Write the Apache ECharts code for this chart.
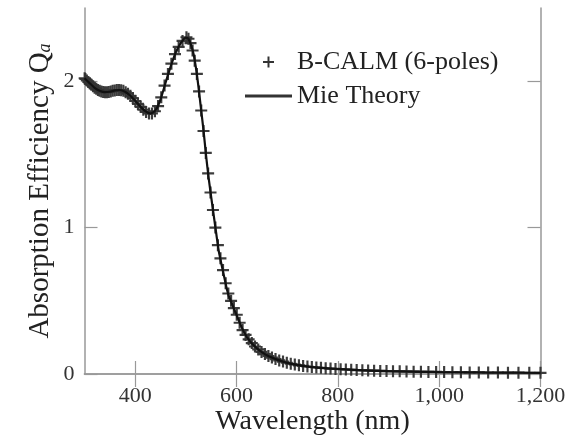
<!DOCTYPE html>
<html>
<head>
<meta charset="utf-8">
<script src="https://cdn.jsdelivr.net/npm/echarts@6/dist/echarts.min.js"></script>
<style>html,body{margin:0;padding:0;background:#fff}#c{width:583px;height:442px}</style>
</head>
<body>
<div id="c"></div>
<script>
// B-CALM (6-poles) samples (nm, Q_a)
const bcalmWavelength = [300.3,301.8,304.6,307.6,310.6,313.6,316.8,320.0,323.2,326.5,329.9,333.3,336.9,340.5,344.2,347.9,351.8,355.7,359.7,363.8,368.0,372.3,376.7,381.2,385.8,390.6,395.4,400.4,405.5,410.7,416.1,421.6,427.3,433.1,439.0,445.2,451.5,458.0,464.7,471.5,478.6,485.9,493.5,501.2,505.2,509.2,513.3,517.5,521.8,526.1,530.4,534.9,539.4,544.0,548.7,553.5,558.3,563.3,568.3,573.4,578.6,583.9,589.3,594.8,600.5,606.2,612.0,617.9,624.0,630.2,636.5,642.9,649.4,656.1,663.0,669.9,677.0,684.3,691.8,699.3,707.1,715.1,723.2,731.5,740.0,748.7,757.6,766.7,776.0,785.6,795.4,805.5,815.8,826.4,837.2,848.4,859.8,871.6,883.7,896.1,908.9,922.1,935.6,949.6,964.0,978.8,994.0,1009.8,1026.1,1042.9,1060.2,1078.2,1096.7,1116.0,1135.8,1156.5,1177.9,1200.0];
const bcalmQ = [2.02,2.015,2.005,1.995,1.985,1.975,1.965,1.955,1.948,1.94,1.935,1.93,1.927,1.925,1.925,1.927,1.93,1.934,1.937,1.94,1.94,1.938,1.934,1.925,1.915,1.90,1.885,1.865,1.845,1.825,1.805,1.79,1.78,1.78,1.795,1.83,1.89,1.97,2.05,2.12,2.185,2.235,2.275,2.30,2.29,2.26,2.21,2.14,2.05,1.93,1.80,1.66,1.51,1.37,1.24,1.12,1.00,0.88,0.79,0.71,0.62,0.55,0.50,0.45,0.405,0.35,0.30,0.267,0.237,0.211,0.188,0.168,0.151,0.136,0.123,0.112,0.102,0.093,0.085,0.077,0.070,0.065,0.059,0.055,0.051,0.048,0.045,0.042,0.039,0.037,0.035,0.033,0.031,0.029,0.027,0.026,0.024,0.023,0.021,0.020,0.019,0.018,0.017,0.016,0.015,0.014,0.014,0.013,0.012,0.012,0.011,0.011,0.010,0.010,0.009,0.009,0.008,0.008];

// Mie theory curve (nm, Q_a)
const mieWavelength = [300,310,320,330,340,350,360,370,380,390,400,410,420,430,440,450,460,470,480,490,500,505,510,515,520,525,530,535,540,545,550,555,560,565,570,575,580,585,590,595,600,610,620,630,640,650,660,670,680,690,700,720,740,760,780,800,850,900,950,1000,1050,1100,1150,1200];
const mieQ = [2.02,1.987,1.955,1.935,1.925,1.928,1.937,1.94,1.928,1.902,1.867,1.828,1.795,1.779,1.80,1.875,1.99,2.10,2.195,2.26,2.298,2.29,2.25,2.19,2.09,1.96,1.81,1.66,1.49,1.34,1.21,1.085,0.96,0.84,0.755,0.675,0.595,0.53,0.49,0.445,0.405,0.32,0.255,0.21,0.177,0.15,0.128,0.112,0.098,0.087,0.076,0.062,0.051,0.044,0.038,0.034,0.025,0.019,0.016,0.013,0.011,0.010,0.009,0.008];

const xTickValues = [400,600,800,1000,1200];
const yTickValues = [0,1,2];

const seriesNames = ['B-CALM (6-poles)','Mie Theory'];

const bcalmData = bcalmWavelength.map((w,i)=>[w,bcalmQ[i]]);
const mieData = mieWavelength.map((w,i)=>[w,mieQ[i]]);

const FONT = '"Liberation Serif", "Times New Roman", serif';
const frame = {show:true, lineStyle:{color:'#999', width:1.5}};
const tickStyle = {color:'#999', width:1.2};
const PLUS = 'path://M4.1,0h1.8v4.1h4.1v1.8h-4.1v4.1h-1.8v-4.1h-4.1v-1.8h4.1z';

const chart = echarts.init(document.getElementById('c'), null, {renderer:'canvas'});
chart.setOption({
  animation:false,
  backgroundColor:'#fff',
  grid:{left:84.5, right:42.5, top:8, bottom:68, containLabel:false},
  legend:{
    orient:'vertical', left:240, top:44,
    itemWidth:47, itemHeight:11, itemGap:8,
    textStyle:{fontFamily:FONT, fontSize:26, color:'#222', lineHeight:26},
    data:[
      {name:seriesNames[0], icon:PLUS, itemStyle:{color:'#333', opacity:1}},
      {name:seriesNames[1], icon:'path://M0,0h47v3h-47z', itemStyle:{color:'#333'}}
    ]
  },
  xAxis:[{
    type:'value', min:300, max:1200,
    name:'Wavelength (nm)', nameLocation:'middle', nameGap:34, nameMoveOverlap:false,
    nameTextStyle:{fontFamily:FONT, fontSize:28, color:'#222'},
    axisLine:frame,
    axisTick:{show:true, inside:true, length:13, lineStyle:tickStyle, customValues:xTickValues},
    axisLabel:{show:true, margin:11, fontFamily:FONT, fontSize:22, color:'#333', customValues:xTickValues,
      formatter:v=>Number(v).toLocaleString('en-US')},
    splitLine:{show:false}
  },{
    type:'value', min:300, max:1200, position:'top',
    axisLine:frame,
    axisTick:{show:true, inside:true, length:13, lineStyle:tickStyle, customValues:xTickValues},
    axisLabel:{show:false}, splitLine:{show:false}
  }],
  yAxis:[{
    type:'value', min:0, max:2.5,
    name:'{n|Absorption Efficiency Q}{s|a}', nameLocation:'middle', nameGap:30, nameRotate:90, nameMoveOverlap:false,
    nameTextStyle:{fontFamily:FONT, fontSize:29, color:'#222',
      rich:{n:{fontFamily:FONT, fontSize:29, color:'#222'}, s:{fontFamily:FONT, fontSize:18, fontStyle:'italic', color:'#222', verticalAlign:'bottom', padding:[10,0,0,0]}}},
    axisLine:frame,
    axisTick:{show:true, inside:true, length:13, lineStyle:tickStyle, customValues:yTickValues},
    axisLabel:{show:true, margin:10, fontFamily:FONT, fontSize:22, color:'#333', customValues:yTickValues},
    splitLine:{show:false}
  },{
    type:'value', min:0, max:2.5, position:'right',
    axisLine:frame,
    axisTick:{show:true, inside:true, length:13, lineStyle:tickStyle, customValues:yTickValues},
    axisLabel:{show:false}, splitLine:{show:false}
  }],
  series:[{
    name:seriesNames[0], type:'scatter',
    symbol:PLUS,
    symbolSize:12,
    itemStyle:{color:'#333', opacity:0.95},
    data:bcalmData, z:2
  },{
    name:seriesNames[1], type:'line', showSymbol:false, symbol:'none', smooth:0.2,
    lineStyle:{color:'#111', width:2.2},
    itemStyle:{color:'#111'},
    data:mieData, z:3
  }]
});
</script>
</body>
</html>
